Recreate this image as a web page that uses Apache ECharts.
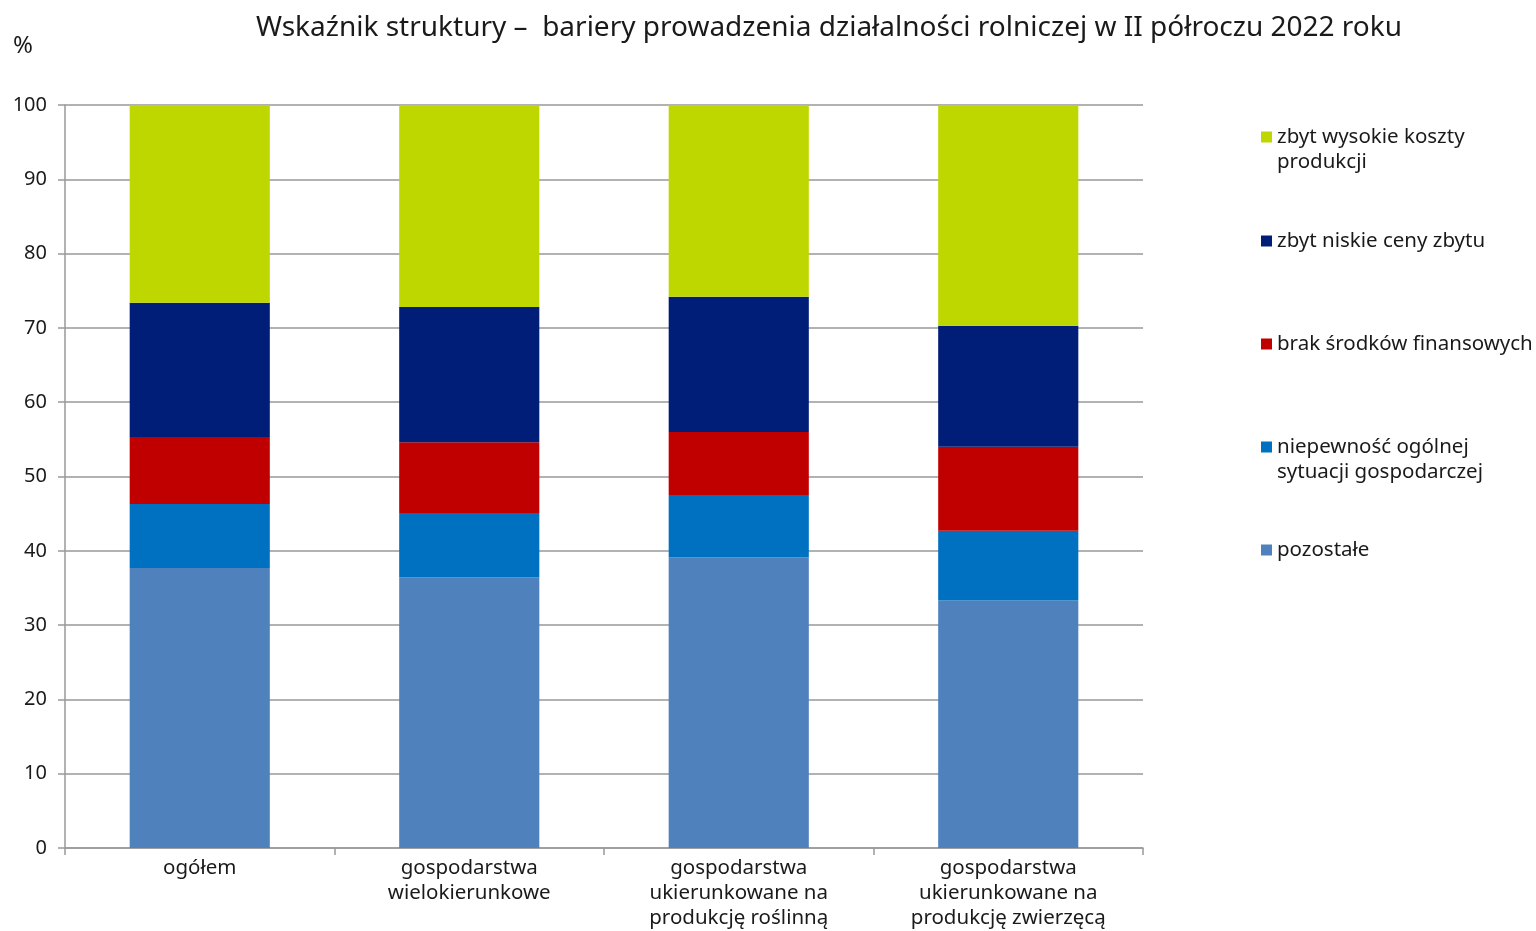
<!DOCTYPE html>
<html>
<head>
<meta charset="utf-8">
<script src="https://cdn.jsdelivr.net/npm/echarts@6/dist/echarts.min.js"></script>
<style>
  html, body { margin: 0; padding: 0; background: #fff; }
  #chart { width: 1536px; height: 931px; }
</style>
</head>
<body>
<div id="chart"></div>
<script>
// categories (x axis)
const categories = [
  'ogółem',
  'gospodarstwa\nwielokierunkowe',
  'gospodarstwa\nukierunkowane na\nprodukcję roślinną',
  'gospodarstwa\nukierunkowane na\nprodukcję zwierzęcą'
]

// series, from bottom of the stack to top
const pozostale = [37.7, 36.4, 39.1, 33.3]
const niepewnosc = [8.6, 8.7, 8.4, 9.4]
const brakSrodkow = [9.0, 9.5, 8.5, 11.3]
const niskieCeny = [18.1, 18.2, 18.2, 16.3]
const wysokieKoszty = [26.6, 27.2, 25.8, 29.7]

const seriesNames = [
  'pozostałe',
  'niepewność ogólnej sytuacji gospodarczej',
  'brak środków finansowych',
  'zbyt niskie ceny zbytu',
  'zbyt wysokie koszty produkcji'
]
// legend text as shown (line breaks)
const legendText = {
  'zbyt wysokie koszty produkcji': 'zbyt wysokie koszty\nprodukcji',
  'zbyt niskie ceny zbytu': 'zbyt niskie ceny zbytu',
  'brak środków finansowych': 'brak środków finansowych',
  'niepewność ogólnej sytuacji gospodarczej': 'niepewność ogólnej\nsytuacji gospodarczej',
  'pozostałe': 'pozostałe'
}
const seriesData = [pozostale, niepewnosc, brakSrodkow, niskieCeny, wysokieKoszty]
const colors = ['#4F81BD', '#0070C0', '#C00000', '#001E78', '#BFD700']

const font = '"Noto Sans", sans-serif'
const lineH = 25

const chart = echarts.init(document.getElementById('chart'))

// one legend per entry so each sits at its own slot on the right
const legendOrder = seriesNames.slice().reverse()
const legendCenters = [137, 241, 344, 447, 550]
const legends = legendOrder.map((name, i) => {
  const twoLines = legendText[name].indexOf('\n') >= 0
  return {
    data: [name],
    orient: 'vertical',
    left: 1261,
    top: legendCenters[i] - (twoLines ? lineH * 1.5 : lineH / 2),
    padding: 0,
    itemWidth: 11,
    itemHeight: 11,
    itemGap: 0,
    selectedMode: false,
    icon: 'rect',
    formatter: n => (legendText[n].indexOf('\n') >= 0 ? ' \n' : '') + legendText[n],
    textStyle: {
      fontFamily: font,
      fontSize: 20.5,
      lineHeight: lineH,
      color: '#1a1a1a'
    }
  }
})

const option = {
  animation: false,
  color: colors,
  title: {
    text: 'Wskaźnik struktury –  bariery prowadzenia działalności rolniczej w II półroczu 2022 roku',
    left: 824,
    top: 9,
    textAlign: 'center',
    textStyle: {
      fontFamily: font,
      fontSize: 28,
      fontWeight: 'normal',
      color: '#1a1a1a'
    }
  },
  legend: legends,
  grid: {
    left: 65,
    right: 393,
    top: 105,
    bottom: 80
  },
  xAxis: {
    type: 'category',
    data: categories,
    axisLine: { lineStyle: { color: '#999', width: 1.5 } },
    axisTick: { show: true, length: 7, lineStyle: { color: '#999', width: 1.5 } },
    axisLabel: {
      margin: 8,
      fontFamily: font,
      fontSize: 20.5,
      lineHeight: lineH,
      color: '#1a1a1a',
      interval: 0
    }
  },
  yAxis: {
    type: 'value',
    min: 0,
    max: 100,
    interval: 10,
    name: '%',
    nameLocation: 'end',
    nameGap: 47,
    nameTextStyle: {
      fontFamily: font,
      fontSize: 24,
      color: '#1a1a1a',
      align: 'right',
      padding: [0, 32, 0, 0]
    },
    axisLine: { show: true, lineStyle: { color: '#999', width: 1.5 } },
    axisTick: { show: true, length: 7, lineStyle: { color: '#999', width: 1.5 } },
    splitLine: { lineStyle: { color: '#999', width: 1.5 } },
    axisLabel: {
      margin: 18,
      fontFamily: font,
      fontSize: 20,
      color: '#1a1a1a'
    }
  },
  series: seriesNames.map((name, i) => ({
    name: name,
    type: 'bar',
    stack: 'total',
    barWidth: '52%',
    data: seriesData[i],
    itemStyle: { color: colors[i] }
  }))
}

chart.setOption(option)
</script>
</body>
</html>
